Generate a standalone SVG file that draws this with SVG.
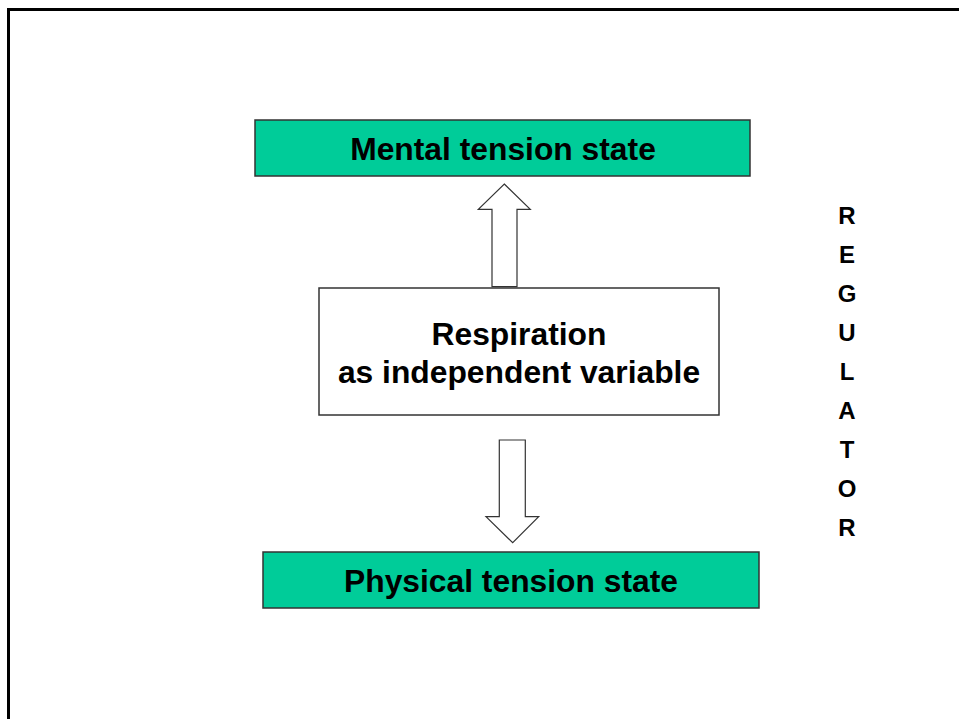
<svg xmlns="http://www.w3.org/2000/svg" width="959" height="719" viewBox="0 0 959 719">
<style>
.t{font-family:"Liberation Sans",Arial,sans-serif;font-weight:bold;fill:#000;text-anchor:middle}
.g{fill:#00CC99;stroke:#333;stroke-width:1.5}
.w{fill:#fff;stroke:#333;stroke-width:1.5}
.a{fill:#fff;stroke:#333;stroke-width:1.2}
</style>
<rect width="959" height="719" fill="#fff"/>
<rect x="8.5" y="9.5" width="960" height="720" fill="none" stroke="#000" stroke-width="3"/>
<g id="mental">
<rect class="g" x="255" y="120" width="495" height="56"/>
<text class="t" x="503" y="160" font-size="31.8">Mental tension state</text>
</g>
<g id="respiration">
<rect class="w" x="319" y="288" width="400" height="127"/>
<text class="t" x="519" y="344.5" font-size="31.8">Respiration</text>
<text class="t" x="519" y="383" font-size="31.8">as independent variable</text>
</g>
<g id="physical">
<rect class="g" x="263" y="552" width="496" height="56"/>
<text class="t" x="511" y="592" font-size="31.8">Physical tension state</text>
</g>
<g id="regulator">
<text class="t" x="847" y="224" font-size="24">R</text>
<text class="t" x="847" y="263" font-size="24">E</text>
<text class="t" x="847" y="302" font-size="24">G</text>
<text class="t" x="847" y="341" font-size="24">U</text>
<text class="t" x="847" y="380" font-size="24">L</text>
<text class="t" x="847" y="419" font-size="24">A</text>
<text class="t" x="847" y="458" font-size="24">T</text>
<text class="t" x="847" y="497" font-size="24">O</text>
<text class="t" x="847" y="536" font-size="24">R</text>
</g>
<g id="connectors">
<polygon class="a" points="504.3,184 530.3,209.3 517,209.3 517,286.7 492,286.7 492,209.3 478.3,209.3"/>
<polygon class="a" points="499.3,440 525.3,440 525.3,516.7 538.7,516.7 512.7,542.7 486,516.7 499.3,516.7"/>
</g>
</svg>
